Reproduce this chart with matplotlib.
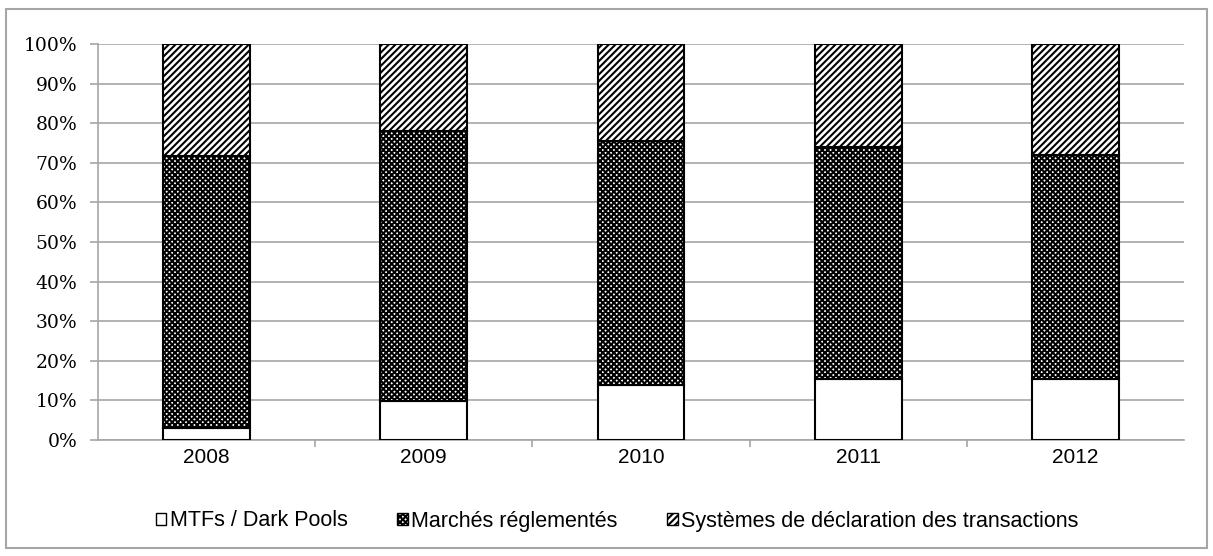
import numpy as np
import matplotlib.pyplot as plt
from matplotlib.patches import Rectangle, Patch
from matplotlib.ticker import FixedLocator

plt.rcParams['hatch.linewidth'] = 1.5

years = ['2008', '2009', '2010', '2011', '2012']
mtf = [3.0, 9.8, 13.8, 15.4, 15.5]
marches = [68.7, 68.2, 61.7, 58.6, 56.5]
systemes = [28.3, 22.0, 24.5, 26.0, 28.0]
labels = ['MTFs / Dark Pools', 'Marchés réglementés',
          'Systèmes de déclaration des transactions']
hatches = ['', 'xxxxxx', '/////']

fig = plt.figure(figsize=(12.13, 5.56), dpi=100)
ax = fig.add_axes([98 / 1213, 1 - 440 / 556, (1184 - 98) / 1213, (440 - 44) / 556])

x = np.arange(len(years))
bottom = np.zeros(len(years))
for vals, h in zip([mtf, marches, systemes], hatches):
    ax.bar(x, vals, width=0.4, bottom=bottom, color='white', edgecolor='black',
           hatch=h, linewidth=1.5, zorder=3)
    bottom += np.array(vals)

ax.set_xlim(-0.5, len(years) - 0.5)
ax.set_ylim(0, 100)
ax.set_yticks(np.arange(0, 101, 10))
ax.set_yticklabels([f'{v}%' for v in range(0, 101, 10)], fontfamily='DejaVu Serif',
                   fontsize=13.5)
ax.yaxis.grid(True, color='#a6a6a6', linewidth=1.2, zorder=0)
ax.tick_params(axis='y', length=6, color='#a6a6a6', width=1.2, pad=9)

ax.set_xticks(x)
ax.set_xticklabels(years, fontfamily='Liberation Sans', fontsize=15)
ax.tick_params(axis='x', length=0, pad=6)
ax.xaxis.set_minor_locator(FixedLocator(np.arange(0.5, len(years) - 0.5, 1)))
ax.tick_params(axis='x', which='minor', length=5, color='#a6a6a6', width=1.2)

for s in ['top', 'right']:
    ax.spines[s].set_visible(False)
ax.spines['left'].set_color('#a6a6a6')
ax.spines['left'].set_linewidth(1.2)
ax.spines['bottom'].set_color('#a6a6a6')
ax.spines['bottom'].set_linewidth(1.2)

handles = [Patch(facecolor='white', edgecolor='black', hatch=h, linewidth=1.0) for h in hatches]
fig.legend(handles, labels, loc='center', bbox_to_anchor=(617 / 1213, 1 - 521 / 556), ncol=3,
           frameon=False, prop={'family': 'Liberation Sans', 'size': 15.5},
           handlelength=0.5, handleheight=0.5, handletextpad=0.15, columnspacing=2.3)

fig.patches.append(Rectangle((6 / 1213, 1 - 548 / 556), 1201 / 1213, 539 / 556,
                             transform=fig.transFigure, fill=False,
                             edgecolor='#a6a6a6', linewidth=1.5))

fig.savefig('out.png', dpi=100)
